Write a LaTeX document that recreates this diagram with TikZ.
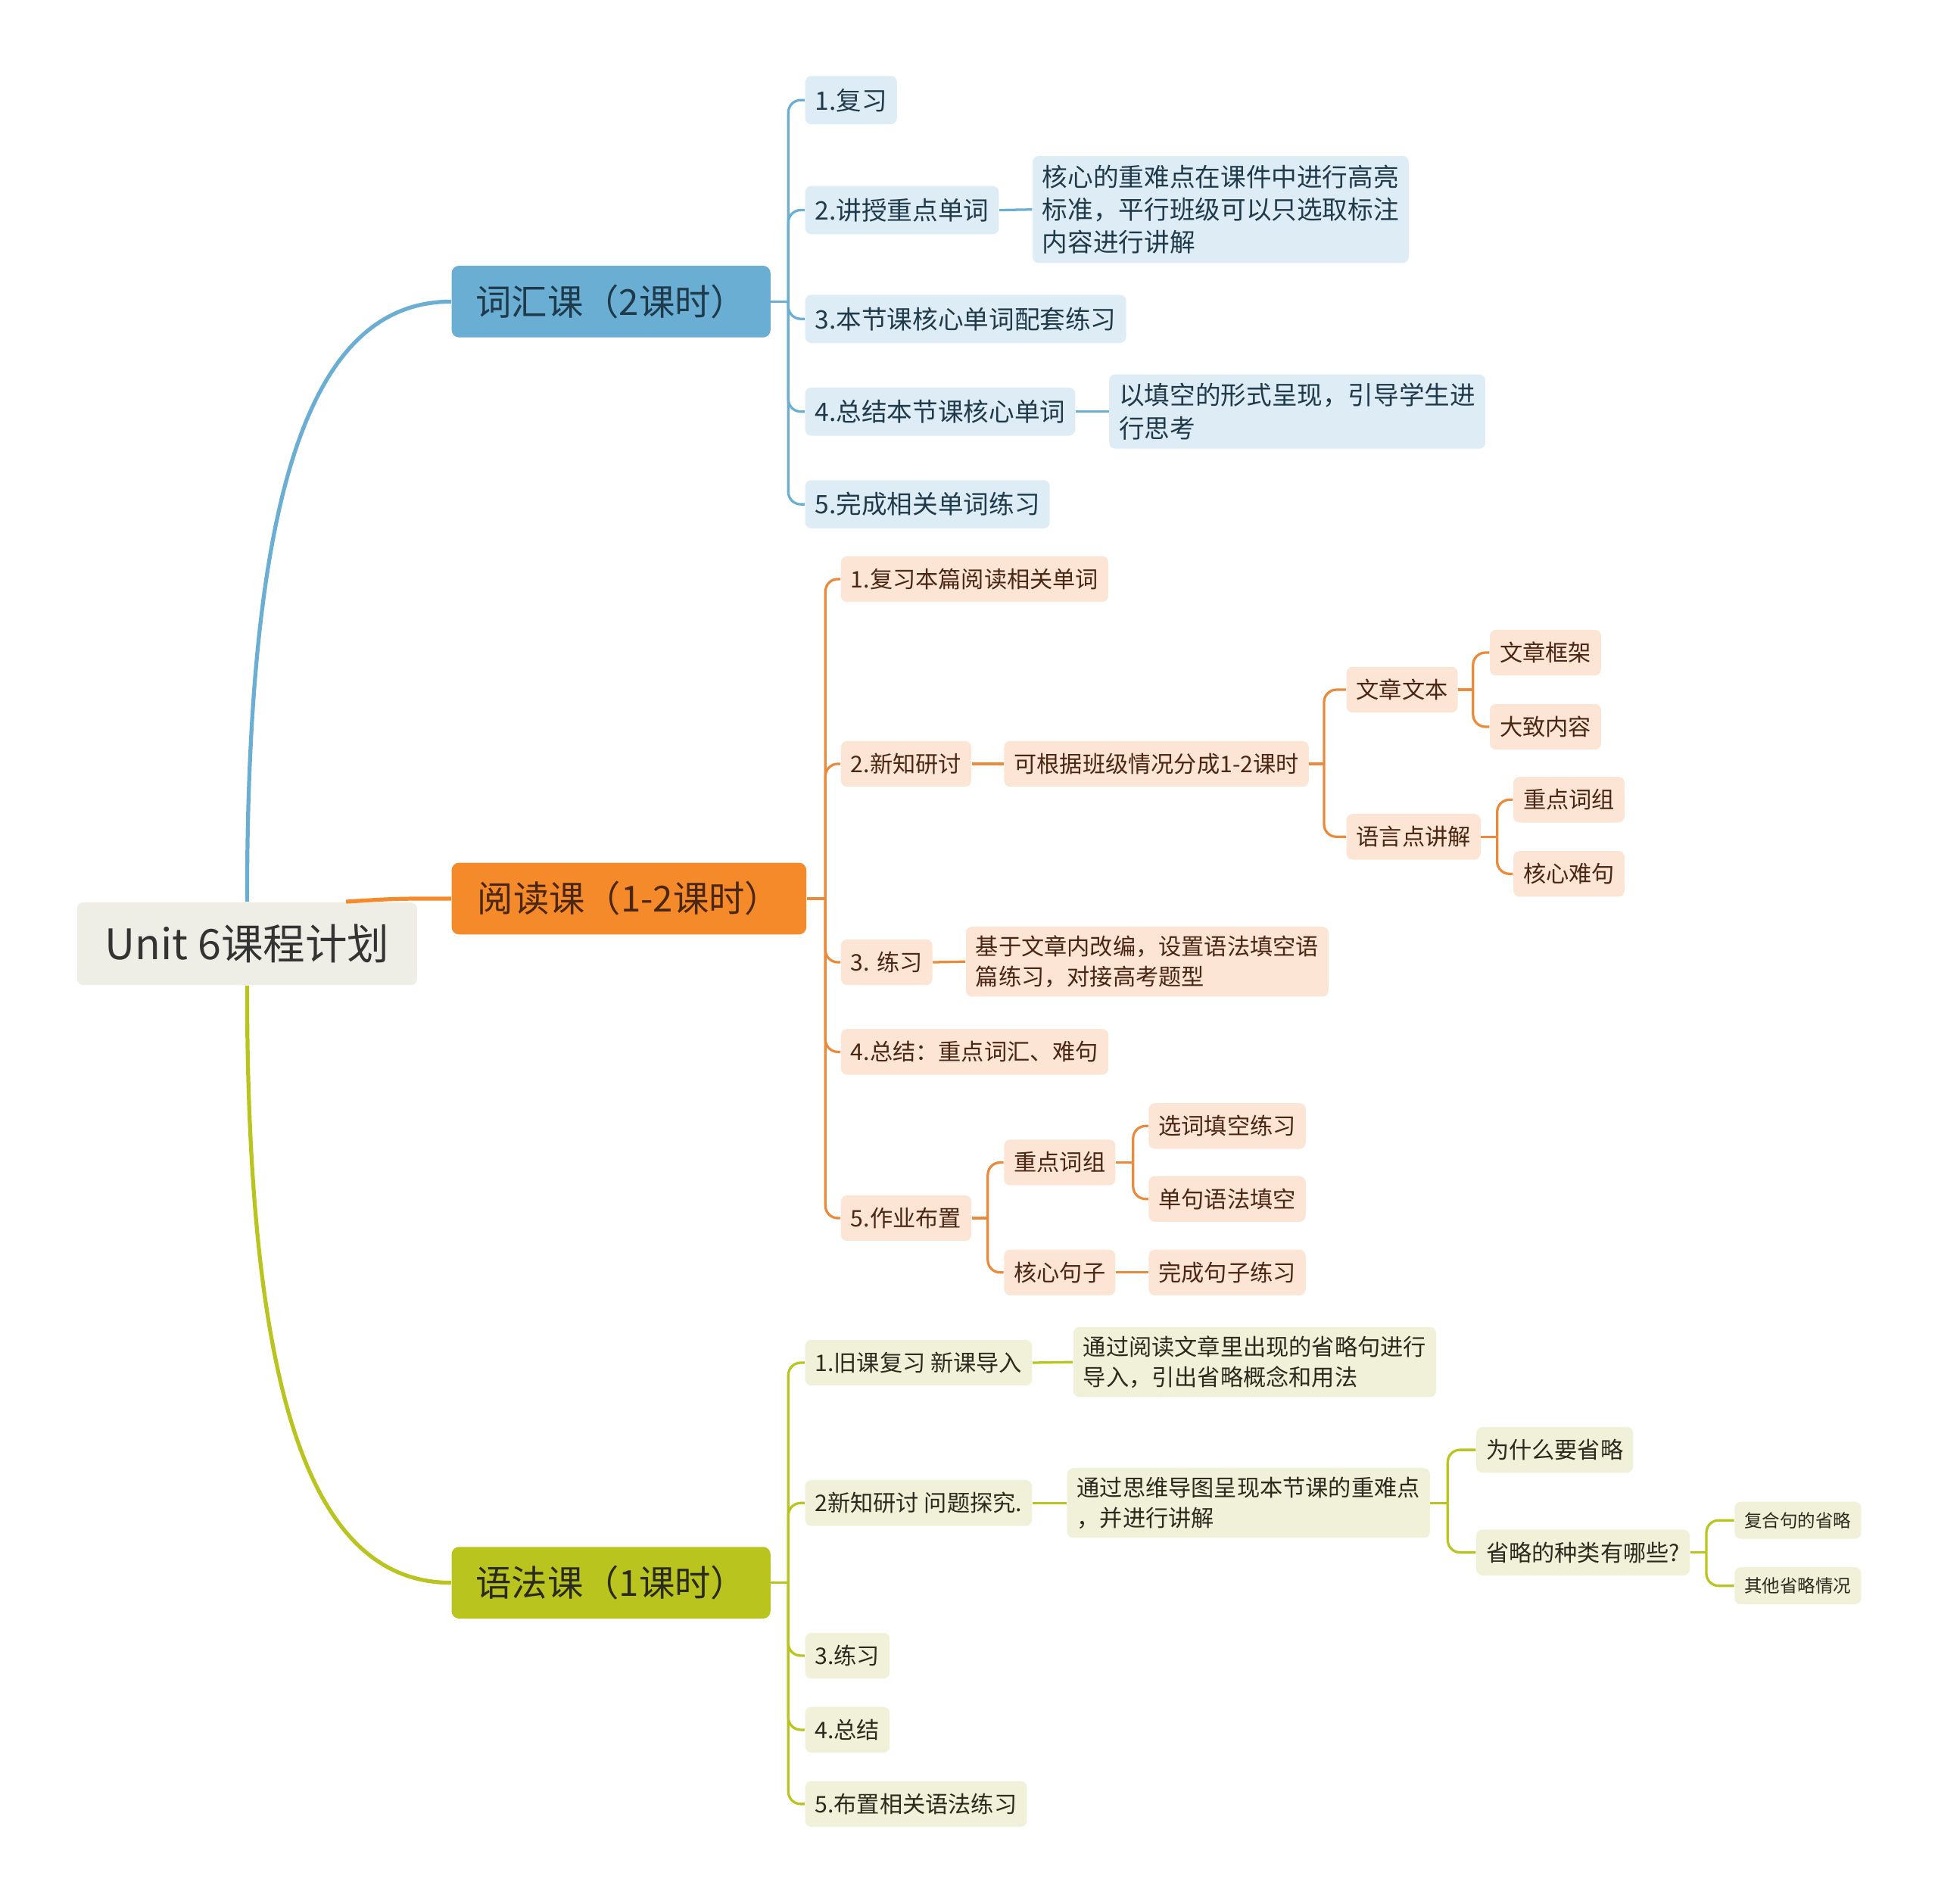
\documentclass[tikz,border=0pt]{standalone}
\usepackage{fontspec}
\setmainfont{Noto Sans CJK SC}
\usepackage{tikz}

\definecolor{vmain}{HTML}{6BAED3}
\definecolor{vlight}{HTML}{DEEDF5}
\definecolor{vtext}{HTML}{1F3A4B}
\definecolor{rmain}{HTML}{F58A2B}
\definecolor{rline}{HTML}{EA8A3A}
\definecolor{rlight}{HTML}{FCE5D5}
\definecolor{rtext}{HTML}{4B2612}
\definecolor{gmain}{HTML}{BAC41E}
\definecolor{glight}{HTML}{F0F1D8}
\definecolor{gtext}{HTML}{2A2A1E}
\definecolor{rootfill}{HTML}{EEEEE6}
\definecolor{roottext}{HTML}{333333}

\begin{document}
\begin{tikzpicture}[x=0.5pt,y=-0.5pt]
		\useasboundingbox (0,0) rectangle (1568,1540);
		\tikzstyle{every node}=[anchor=west, rounded corners=2.5pt, align=left, inner xsep=4pt, inner ysep=3.6pt]
		\tikzstyle{topic}=[align=center, minimum height=29pt, rounded corners=3pt, font=\fontsize{14.5pt}{17pt}\selectfont]
		\tikzstyle{vbox}=[fill=vlight, text=vtext, minimum height=19.5pt, font=\fontsize{10.3pt}{13.25pt}\selectfont]
		\tikzstyle{rbox}=[fill=rlight, text=rtext, minimum height=18.5pt, font=\fontsize{9.25pt}{12.25pt}\selectfont]
		\tikzstyle{gbox}=[fill=glight, text=gtext, minimum height=18.5pt, font=\fontsize{9.25pt}{12.25pt}\selectfont]
		\tikzstyle{gsmall}=[gbox, minimum height=15pt, font=\fontsize{7.2pt}{9pt}\selectfont]
		\tikzstyle{vline}=[draw=vmain, line width=1pt, rounded corners=5pt]
		\tikzstyle{rlink}=[draw=rline, line width=1pt, rounded corners=5pt]
		\tikzstyle{glink}=[draw=gmain, line width=1pt, rounded corners=5pt]

		\node[fill=rootfill, text=roottext, align=center, minimum width=137.5pt, minimum height=33.5pt, font=\fontsize{17pt}{20pt}\selectfont] (unit) at (62,763.5) {Unit 6课程计划};

		\node[topic, fill=vmain, text=vtext, minimum width=129pt] (vocab) at (365,244) {词汇课（2课时）};
		\node[topic, fill=rmain, text=rtext, minimum width=143.5pt] (read) at (365,727) {阅读课（1-2课时）};
		\node[topic, fill=gmain, text=gtext, minimum width=129pt] (gram) at (365,1280.5) {语法课（1课时）};

		\coordinate (rstart) at (280,729.5);
		\draw[vmain, line width=1.6pt] (unit.north) .. controls (200,400) and (250,244) .. (vocab.west);
		\draw[rmain, line width=1.6pt] (rstart) .. controls (320,727) .. (read.west);
		\draw[gmain, line width=1.6pt] (unit.south) .. controls (200,1125) and (250,1280.5) .. (gram.west);

		\node[vbox] (v1) at (651,81) {1.复习};
		\node[vbox] (v2) at (651,170) {2.讲授重点单词};
		\node[vbox] (v3) at (651,258) {3.本节课核心单词配套练习};
		\node[vbox] (v4) at (651,333) {4.总结本节课核心单词};
		\node[vbox] (v5) at (651,408) {5.完成相关单词练习};
		\node[vbox] (vn2) at (835,169.5) {核心的重难点在课件中进行高亮\\标准，平行班级可以只选取标注\\内容进行讲解};
		\node[vbox] (vn4) at (897,333) {以填空的形式呈现，引导学生进\\行思考};

		\draw[vline] (vocab.east) -- ++(14,0) coordinate (vfork);
		\foreach \n in {v1,v2,v3,v4,v5}
			\draw[vline] (vfork) |- (\n.west);
		\draw[vline] (v2.east) -- (vn2.west);
		\draw[vline] (v4.east) -- (vn4.west);

		\node[rbox] (r1) at (680,468.5) {1.复习本篇阅读相关单词};
		\node[rbox] (r2) at (680,618) {2.新知研讨};
		\node[rbox] (r3) at (680,778.5) {3. 练习};
		\node[rbox] (r4) at (680,851) {4.总结：重点词汇、难句};
		\node[rbox] (r5) at (680,985.5) {5.作业布置};
		\node[rbox] (rn2) at (812,618) {可根据班级情况分成1-2课时};
		\node[rbox] (r21) at (1089,558) {文章文本};
		\node[rbox] (r22) at (1089,677) {语言点讲解};
		\node[rbox] (r211) at (1205,528) {文章框架};
		\node[rbox] (r212) at (1205,588) {大致内容};
		\node[rbox] (r221) at (1224,647) {重点词组};
		\node[rbox] (r222) at (1224,707) {核心难句};
		\node[rbox] (rn3) at (781,778) {基于文章内改编，设置语法填空语\\篇练习，对接高考题型};
		\node[rbox] (r51) at (812,940.5) {重点词组};
		\node[rbox] (r52) at (812,1029.5) {核心句子};
		\node[rbox] (r511) at (929,911) {选词填空练习};
		\node[rbox] (r512) at (929,970) {单句语法填空};
		\node[rbox] (r521) at (929,1029.5) {完成句子练习};

		\draw[rlink] (read.east) -- ++(15,0) coordinate (rfork);
		\foreach \n in {r1,r2,r3,r4,r5}
			\draw[rlink] (rfork) |- (\n.west);
		\draw[rlink] (r2.east) -- (rn2.west);
		\draw[rlink] (r3.east) -- (rn3.west);
		\draw[rlink] (rn2.east) -- ++(12,0) coordinate (rf2);
		\foreach \n in {r21,r22}
			\draw[rlink] (rf2) |- (\n.west);
		\draw[rlink] (r21.east) -- ++(12,0) coordinate (rf21);
		\foreach \n in {r211,r212}
			\draw[rlink] (rf21) |- (\n.west);
		\draw[rlink] (r22.east) -- ++(13,0) coordinate (rf22);
		\foreach \n in {r221,r222}
			\draw[rlink] (rf22) |- (\n.west);
		\draw[rlink] (r5.east) -- ++(13,0) coordinate (rf5);
		\foreach \n in {r51,r52}
			\draw[rlink] (rf5) |- (\n.west);
		\draw[rlink] (r51.east) -- ++(14,0) coordinate (rf51);
		\foreach \n in {r511,r512}
			\draw[rlink] (rf51) |- (\n.west);
		\draw[rlink] (r52.east) -- (r521.west);

		\node[gbox] (g1) at (651,1102.5) {1.旧课复习 新课导入};
		\node[gbox] (g2) at (651,1216) {2新知研讨 问题探究.};
		\node[gbox] (g3) at (651,1339.5) {3.练习};
		\node[gbox] (g4) at (651,1399.5) {4.总结};
		\node[gbox] (g5) at (651,1459.5) {5.布置相关语法练习};
		\node[gbox] (gn1) at (868,1102) {通过阅读文章里出现的省略句进行\\导入，引出省略概念和用法};
		\node[gbox] (gn2) at (863,1216) {通过思维导图呈现本节课的重难点\\，并进行讲解};
		\node[gbox] (g21) at (1194,1173) {为什么要省略};
		\node[gbox] (g22) at (1194,1256) {省略的种类有哪些?};
		\node[gsmall] (g221) at (1403,1230) {复合句的省略};
		\node[gsmall] (g222) at (1403,1283) {其他省略情况};

		\draw[glink] (gram.east) -- ++(14,0) coordinate (gfork);
		\foreach \n in {g1,g2,g3,g4,g5}
			\draw[glink] (gfork) |- (\n.west);
		\draw[glink] (g1.east) -- (gn1.west);
		\draw[glink] (g2.east) -- (gn2.west);
		\draw[glink] (gn2.east) -- ++(14,0) coordinate (gf2);
		\foreach \n in {g21,g22}
			\draw[glink] (gf2) |- (\n.west);
		\draw[glink] (g22.east) -- ++(13,0) coordinate (gf22);
		\foreach \n in {g221,g222}
			\draw[glink] (gf22) |- (\n.west);

\end{tikzpicture}
\end{document}
